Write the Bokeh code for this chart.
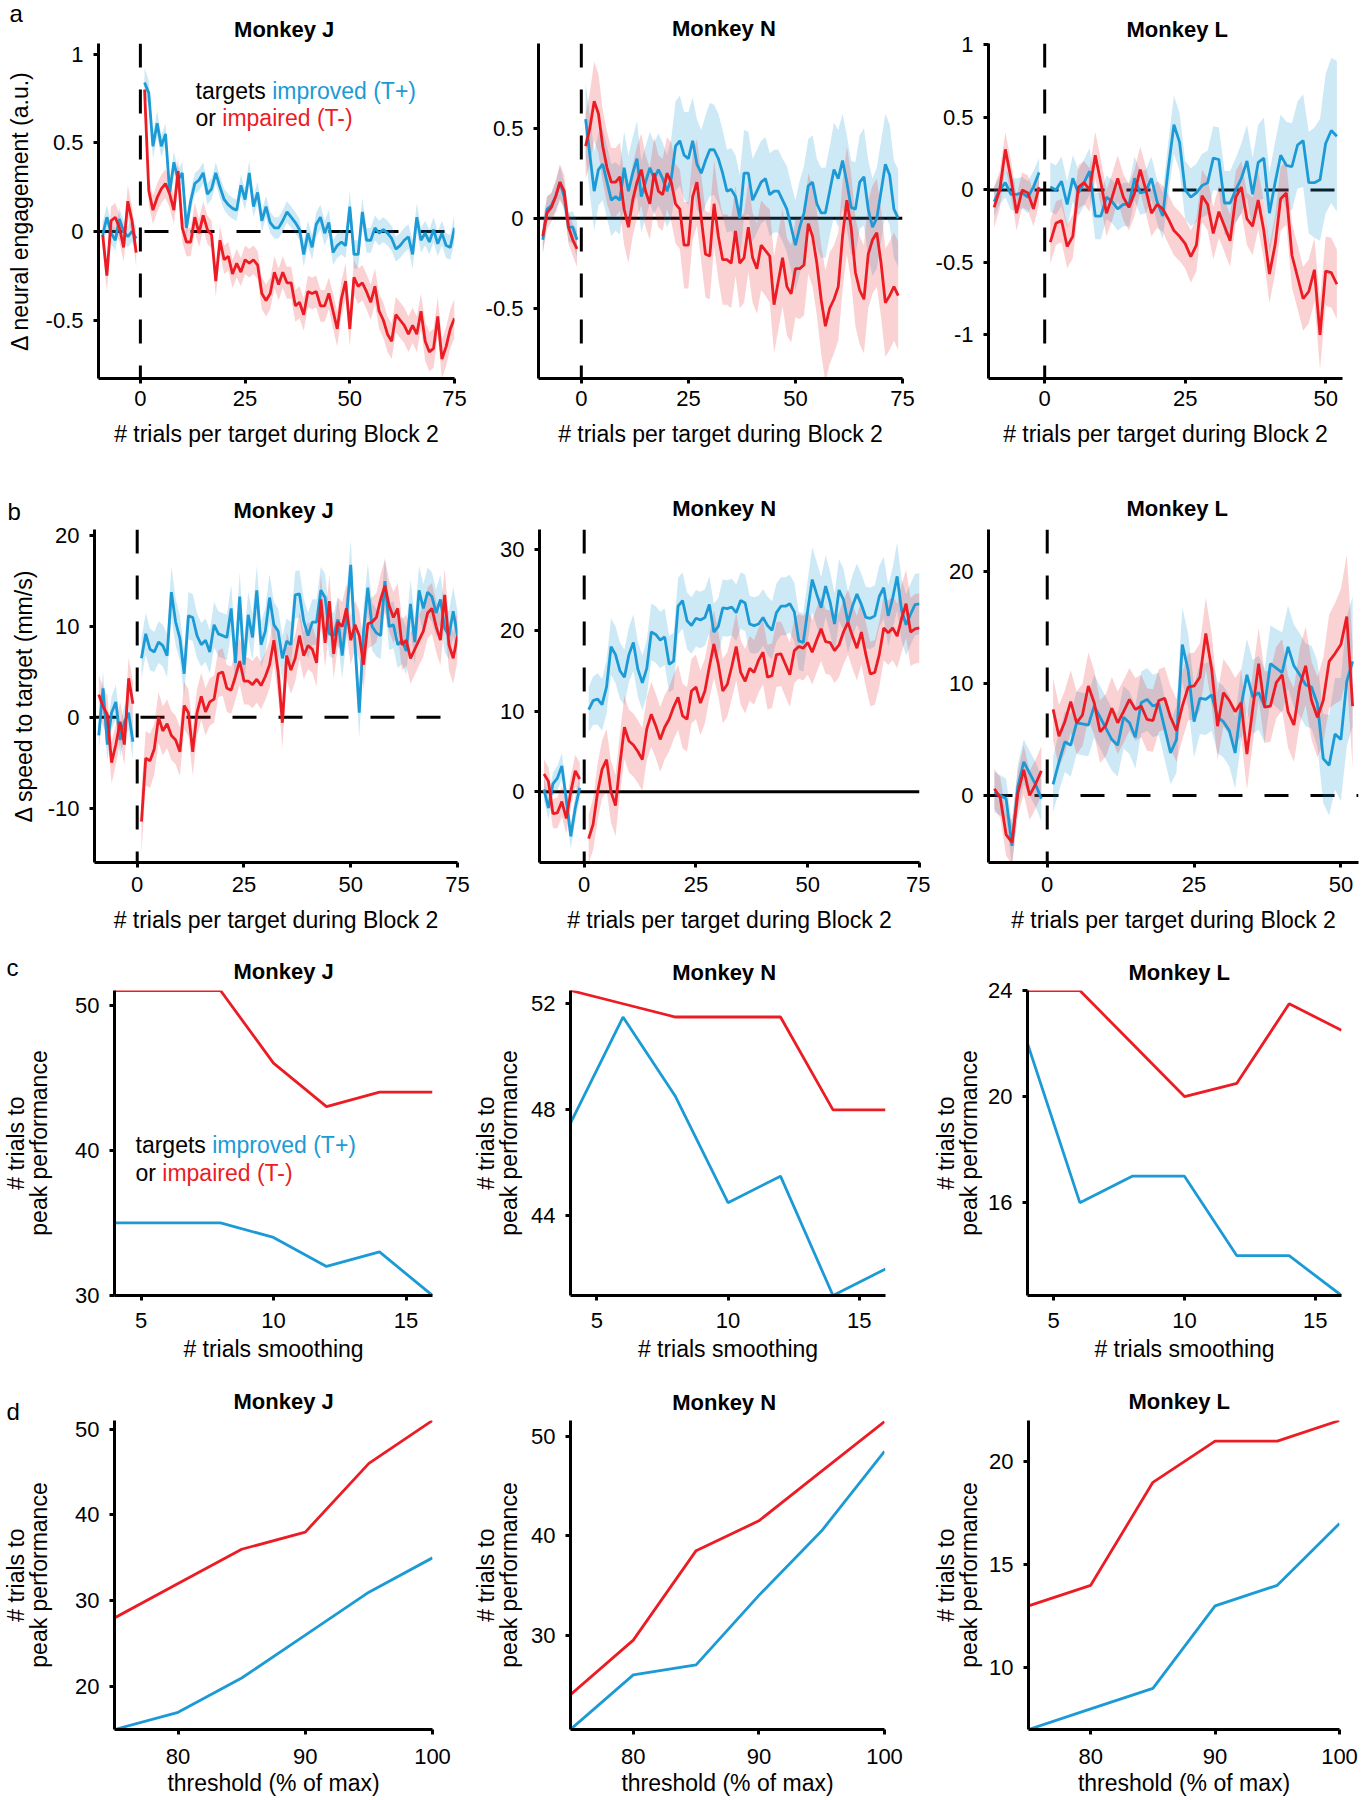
from bokeh.plotting import figure
from bokeh.layouts import row, column
from bokeh.models import Range1d, FixedTicker, Span, Label, Title, CustomJSTickFormatter
from bokeh.embed import file_html
from bokeh.resources import INLINE

BLUE = "#1b9ad6"
RED = "#ec1c24"
FONT = "Liberation Sans"

# ---------------- data ----------------
PRE_X = [-9, -8, -7, -6, -5, -4, -3, -2, -1]
POST_X75 = list(range(1, 76))
POST_X74 = list(range(1, 75))
POST_X52 = list(range(1, 53))

XT_75 = [0, 25, 50, 75]
XT_50 = [0, 25, 50]
XT_SMOOTH = [5, 10, 15]
XT_THRESH = [80, 90, 100]

# panel a, Monkey J
AJ_BLUE_PRE = [-0.02, 0.08, -0.01, -0.05, 0.07, 0.00, -0.03, 0.00, -0.04]
AJ_BLUE_PRE_SEM = [0.07, 0.07, 0.06, 0.06, 0.06, 0.06, 0.06, 0.06, 0.07]
AJ_RED_PRE = [-0.02, -0.25, 0.06, 0.08, 0.02, -0.09, 0.17, 0.06, -0.12]
AJ_RED_PRE_SEM = [0.08, 0.09, 0.08, 0.08, 0.08, 0.08, 0.09, 0.08, 0.08]
AJ_BLUE = [0.84, 0.78, 0.48, 0.61, 0.48, 0.55, 0.22, 0.39, 0.29, 0.33,
           0.02, 0.17, 0.27, 0.29, 0.33, 0.21, 0.24, 0.33, 0.25, 0.18,
           0.15, 0.13, 0.12, 0.26, 0.18, 0.33, 0.14, 0.22, 0.06, 0.14,
           0.05, 0.02, 0.02, 0.06, 0.11, 0.08, 0.05, 0.01, -0.13, -0.01,
           -0.09, 0.04, 0.08, -0.01, 0.05, -0.12, -0.08, -0.06, -0.08, 0.14,
           -0.13, -0.13, 0.11, -0.05, -0.05, 0.02, -0.01, 0.01, -0.01, -0.04,
           -0.10, -0.08, -0.05, -0.03, -0.13, 0.08, -0.05, -0.01, -0.06, 0.01,
           -0.07, -0.01, -0.08, -0.09, 0.02]
AJ_BLUE_SEM = [0.08, 0.07, 0.07, 0.07, 0.06, 0.06, 0.06, 0.06, 0.06, 0.06,
               0.06, 0.06, 0.06, 0.06, 0.06, 0.06, 0.06, 0.06, 0.06, 0.06,
               0.06, 0.06, 0.06, 0.06, 0.06, 0.07, 0.06, 0.06, 0.06, 0.06,
               0.06, 0.06, 0.06, 0.06, 0.06, 0.06, 0.06, 0.06, 0.07, 0.07,
               0.07, 0.07, 0.07, 0.07, 0.07, 0.07, 0.07, 0.07, 0.07, 0.09,
               0.08, 0.08, 0.08, 0.07, 0.07, 0.07, 0.07, 0.07, 0.07, 0.07,
               0.07, 0.07, 0.07, 0.07, 0.08, 0.08, 0.07, 0.07, 0.07, 0.07,
               0.07, 0.07, 0.07, 0.07, 0.08]
AJ_RED = [0.80, 0.23, 0.12, 0.19, 0.24, 0.27, 0.21, 0.12, 0.34, 0.02,
          -0.06, -0.06, 0.08, -0.01, 0.09, 0.01, -0.02, -0.28, -0.05, -0.16,
          -0.14, -0.24, -0.18, -0.23, -0.16, -0.18, -0.16, -0.19, -0.35, -0.39,
          -0.35, -0.23, -0.30, -0.23, -0.29, -0.29, -0.42, -0.40, -0.47, -0.34,
          -0.35, -0.34, -0.42, -0.42, -0.35, -0.45, -0.55, -0.38, -0.28, -0.55,
          -0.26, -0.31, -0.29, -0.34, -0.40, -0.31, -0.45, -0.50, -0.58, -0.62,
          -0.47, -0.50, -0.53, -0.58, -0.53, -0.58, -0.45, -0.62, -0.68, -0.66,
          -0.48, -0.72, -0.65, -0.55, -0.49]
AJ_RED_SEM = [0.08, 0.08, 0.08, 0.08, 0.08, 0.08, 0.08, 0.08, 0.08, 0.08,
              0.08, 0.08, 0.08, 0.08, 0.08, 0.08, 0.08, 0.09, 0.08, 0.08,
              0.08, 0.08, 0.08, 0.08, 0.08, 0.08, 0.08, 0.08, 0.09, 0.09,
              0.09, 0.09, 0.09, 0.09, 0.09, 0.09, 0.09, 0.09, 0.09, 0.09,
              0.09, 0.09, 0.09, 0.09, 0.09, 0.10, 0.10, 0.10, 0.10, 0.10,
              0.10, 0.10, 0.10, 0.10, 0.10, 0.10, 0.10, 0.10, 0.10, 0.10,
              0.10, 0.10, 0.10, 0.10, 0.10, 0.10, 0.10, 0.11, 0.11, 0.11,
              0.11, 0.11, 0.11, 0.11, 0.11]

# panel a, Monkey N
AN_BLUE_PRE = [-0.12, 0.05, 0.07, 0.12, 0.20, 0.12, -0.05, -0.05, -0.12]
AN_BLUE_PRE_SEM = [0.08, 0.07, 0.07, 0.08, 0.09, 0.08, 0.08, 0.09, 0.10]
AN_RED_PRE = [-0.10, 0.03, 0.06, 0.12, 0.20, 0.15, -0.05, -0.12, -0.17]
AN_RED_PRE_SEM = [0.09, 0.09, 0.08, 0.09, 0.10, 0.09, 0.09, 0.09, 0.10]
AN_BLUE = [0.55, 0.35, 0.15, 0.27, 0.30, 0.20, 0.10, 0.12, 0.10, 0.28,
           0.15, 0.25, 0.33, 0.12, 0.20, 0.28, 0.22, 0.27, 0.22, 0.15,
           0.22, 0.40, 0.43, 0.35, 0.33, 0.43, 0.30, 0.25, 0.32, 0.38,
           0.38, 0.33, 0.25, 0.15, 0.16, 0.12, 0.00, 0.25, 0.25, 0.10,
           0.15, 0.20, 0.22, 0.13, 0.15, 0.15, 0.10, 0.05, -0.05, -0.15,
           -0.05, 0.03, 0.18, 0.20, 0.08, 0.03, 0.03, 0.15, 0.27, 0.22,
           0.32, 0.20, 0.06, 0.05, 0.20, 0.23, 0.05, -0.05, 0.00, 0.15,
           0.30, 0.24, 0.05, 0.00]
AN_BLUE_SEM = [0.20, 0.22, 0.22, 0.20, 0.20, 0.20, 0.20, 0.19, 0.19, 0.20,
               0.20, 0.20, 0.21, 0.20, 0.20, 0.20, 0.20, 0.20, 0.20, 0.20,
               0.22, 0.25, 0.25, 0.24, 0.26, 0.24, 0.25, 0.24, 0.25, 0.26,
               0.25, 0.25, 0.24, 0.23, 0.23, 0.23, 0.24, 0.24, 0.23, 0.23,
               0.23, 0.23, 0.23, 0.23, 0.23, 0.23, 0.23, 0.24, 0.24, 0.25,
               0.26, 0.26, 0.26, 0.26, 0.25, 0.25, 0.25, 0.25, 0.26, 0.27,
               0.26, 0.26, 0.26, 0.26, 0.26, 0.27, 0.27, 0.27, 0.28, 0.28,
               0.28, 0.28, 0.27, 0.27]
AN_RED = [0.40, 0.50, 0.65, 0.58, 0.40, 0.28, 0.20, 0.20, 0.23, 0.05,
          -0.05, 0.10, 0.20, 0.27, 0.15, 0.08, 0.25, 0.15, 0.13, 0.25,
          0.20, 0.08, 0.05, -0.15, -0.15, 0.12, 0.20, 0.00, -0.20, -0.21,
          0.08, -0.10, -0.23, -0.23, -0.25, -0.07, -0.25, -0.22, -0.05, -0.22,
          -0.28, -0.15, -0.18, -0.21, -0.48, -0.35, -0.22, -0.38, -0.42, -0.28,
          -0.28, -0.26, -0.03, -0.10, -0.25, -0.45, -0.60, -0.50, -0.45, -0.38,
          -0.10, 0.10, -0.05, -0.30, -0.40, -0.45, -0.20, -0.12, -0.08, -0.25,
          -0.47, -0.43, -0.38, -0.43]
AN_RED_SEM = [0.18, 0.20, 0.22, 0.22, 0.20, 0.20, 0.19, 0.19, 0.19, 0.20,
              0.20, 0.20, 0.20, 0.20, 0.20, 0.20, 0.20, 0.20, 0.20, 0.20,
              0.22, 0.22, 0.22, 0.24, 0.24, 0.24, 0.24, 0.24, 0.24, 0.24,
              0.24, 0.24, 0.25, 0.25, 0.25, 0.25, 0.25, 0.25, 0.25, 0.25,
              0.25, 0.25, 0.25, 0.26, 0.27, 0.27, 0.27, 0.27, 0.27, 0.27,
              0.28, 0.28, 0.28, 0.28, 0.29, 0.30, 0.31, 0.31, 0.30, 0.30,
              0.30, 0.30, 0.30, 0.30, 0.30, 0.30, 0.30, 0.30, 0.30, 0.30,
              0.30, 0.30, 0.30, 0.30]

# panel a, Monkey L
AL_BLUE_PRE = [-0.08, 0.00, 0.05, -0.03, -0.03, -0.02, -0.05, 0.02, 0.12]
AL_BLUE_PRE_SEM = [0.10, 0.10, 0.10, 0.11, 0.11, 0.11, 0.11, 0.11, 0.10]
AL_RED_PRE = [-0.12, 0.00, 0.28, 0.08, -0.16, 0.00, -0.02, -0.13, 0.02]
AL_RED_PRE_SEM = [0.14, 0.13, 0.12, 0.12, 0.12, 0.12, 0.12, 0.12, 0.12]
AL_BLUE = [0.02, 0.00, 0.06, -0.10, 0.08, -0.02, 0.05, 0.13, -0.18, -0.18,
           -0.05, -0.08, -0.13, -0.10, -0.10, 0.08, -0.02, -0.01, 0.08, -0.08,
           -0.18, 0.15, 0.45, 0.33, 0.00, -0.05, -0.02, 0.03, 0.05, 0.22,
           0.21, -0.09, -0.09, 0.00, 0.08, 0.20, -0.03, 0.19, 0.22, -0.16,
           0.05, 0.24, 0.17, 0.16, 0.31, 0.34, 0.05, 0.05, 0.07, 0.32,
           0.41, 0.37]
AL_BLUE_SEM = [0.17, 0.17, 0.17, 0.16, 0.16, 0.16, 0.16, 0.16, 0.16, 0.16,
               0.15, 0.15, 0.15, 0.15, 0.15, 0.15, 0.15, 0.15, 0.15, 0.15,
               0.16, 0.18, 0.20, 0.20, 0.20, 0.20, 0.20, 0.22, 0.22, 0.22,
               0.22, 0.22, 0.22, 0.22, 0.24, 0.25, 0.25, 0.26, 0.28, 0.28,
               0.28, 0.28, 0.30, 0.30, 0.30, 0.32, 0.35, 0.38, 0.42, 0.48,
               0.50, 0.52]
AL_RED = [-0.36, -0.23, -0.21, -0.39, -0.32, 0.02, 0.05, 0.00, 0.24, 0.05,
          -0.16, -0.05, 0.08, -0.05, -0.12, -0.02, 0.14, 0.00, -0.16, -0.10,
          -0.13, -0.20, -0.28, -0.32, -0.37, -0.46, -0.38, -0.04, -0.10, -0.30,
          -0.15, -0.25, -0.35, -0.05, 0.02, -0.20, -0.25, -0.07, -0.28, -0.58,
          -0.38, -0.06, -0.02, -0.45, -0.60, -0.75, -0.70, -0.55, -1.00, -0.56,
          -0.57, -0.65]
AL_RED_SEM = [0.15, 0.15, 0.15, 0.15, 0.15, 0.15, 0.15, 0.15, 0.16, 0.16,
              0.16, 0.16, 0.16, 0.16, 0.16, 0.16, 0.16, 0.16, 0.16, 0.16,
              0.16, 0.17, 0.17, 0.17, 0.17, 0.18, 0.18, 0.18, 0.18, 0.18,
              0.18, 0.18, 0.18, 0.18, 0.18, 0.18, 0.20, 0.20, 0.20, 0.20,
              0.20, 0.22, 0.22, 0.22, 0.22, 0.22, 0.22, 0.22, 0.24, 0.24,
              0.24, 0.24]

# panel b, Monkey J
BJ_BLUE_PRE = [-2.0, 3.2, -3.0, 0.5, 1.7, -2.5, -0.5, 0.5, -2.7]
BJ_BLUE_PRE_SEM = [1.8, 1.9, 1.8, 1.8, 1.9, 1.8, 1.8, 1.9, 2.0]
BJ_RED_PRE = [2.5, 1.2, 0.3, -5.0, -3.0, -0.5, -3.0, 4.3, 1.5]
BJ_RED_PRE_SEM = [2.2, 2.2, 2.1, 2.3, 2.2, 2.2, 2.3, 2.3, 2.4]
BJ_BLUE = [6.5, 9.2, 7.5, 7.2, 8.3, 7.9, 6.8, 13.8, 10.5, 8.7,
           4.8, 11.2, 11.0, 9.0, 8.0, 8.5, 7.2, 10.2, 9.2, 9.0,
           8.8, 12.0, 6.0, 13.3, 5.8, 11.3, 8.8, 14.0, 8.0, 9.5,
           13.2, 10.2, 9.5, 6.5, 8.4, 8.0, 13.5, 13.6, 10.6, 9.0,
           10.5, 10.5, 14.0, 13.2, 9.2, 9.0, 10.8, 6.8, 11.0, 16.8,
           8.0, 0.5, 9.5, 14.3, 10.0, 9.3, 9.0, 15.0, 10.0, 10.2,
           8.0, 8.5, 7.3, 12.5, 8.3, 14.0, 12.0, 13.8, 13.3, 11.5,
           13.0, 9.8, 9.0, 11.7, 9.0]
BJ_BLUE_SEM = [2.2, 2.3, 2.3, 2.2, 2.3, 2.3, 2.4, 2.8, 2.6, 2.5,
               2.5, 2.6, 2.6, 2.5, 2.4, 2.4, 2.4, 2.5, 2.5, 2.5,
               2.5, 2.6, 2.5, 2.7, 2.6, 2.6, 2.5, 2.7, 2.5, 2.5,
               2.6, 2.5, 2.5, 2.5, 2.5, 2.5, 2.6, 2.6, 2.5, 2.5,
               2.5, 2.5, 2.6, 2.6, 2.5, 2.5, 2.5, 2.5, 2.6, 2.8,
               2.6, 2.8, 2.6, 2.7, 2.6, 2.6, 2.6, 2.7, 2.6, 2.6,
               2.6, 2.6, 2.6, 2.7, 2.6, 2.7, 2.7, 2.7, 2.7, 2.6,
               2.7, 2.6, 2.6, 2.7, 2.7]
BJ_RED = [-11.5, -4.5, -4.8, -3.5, 0.0, -1.5, -0.7, -2.0, -2.5, -3.8,
          1.3, 0.5, -3.8, 0.5, 2.3, 0.6, 1.7, 2.0, 4.8, 5.0,
          3.2, 3.0, 4.5, 6.2, 4.0, 4.0, 3.6, 4.2, 3.5, 4.5,
          5.8, 8.5, 5.0, -0.6, 6.8, 5.2, 6.5, 9.0, 6.8, 7.9,
          7.5, 6.0, 13.0, 8.2, 12.8, 7.0, 10.5, 10.0, 12.0, 8.5,
          10.2, 9.0, 5.8, 10.3, 10.5, 11.0, 13.0, 14.5, 12.3, 11.0,
          12.0, 8.0, 8.5, 6.5, 7.5, 8.5, 9.5, 11.5, 12.0, 10.0,
          8.5, 13.5, 8.0, 6.5, 9.0]
BJ_RED_SEM = [3.5, 3.0, 3.0, 2.8, 2.8, 2.7, 2.7, 2.7, 2.7, 2.7,
              2.6, 2.6, 2.6, 2.6, 2.6, 2.6, 2.6, 2.6, 2.6, 2.6,
              2.6, 2.6, 2.6, 2.6, 2.6, 2.6, 2.6, 2.6, 2.6, 2.6,
              2.6, 2.6, 2.6, 2.8, 2.6, 2.6, 2.6, 2.6, 2.6, 2.6,
              2.6, 2.6, 2.8, 2.7, 2.8, 2.7, 2.7, 2.7, 2.7, 2.7,
              2.7, 2.7, 2.7, 2.7, 2.7, 2.7, 2.8, 2.9, 2.8, 2.8,
              2.8, 2.8, 2.8, 2.8, 2.8, 2.8, 2.8, 2.8, 2.8, 2.8,
              2.8, 2.9, 2.8, 2.8, 2.8]

# panel b, Monkey N
BN_BLUE_PRE = [0.3, -2.0, 1.0, 1.7, 3.2, -1.0, -5.5, -2.0, 0.5]
BN_BLUE_PRE_SEM = [1.4, 1.4, 1.4, 1.5, 1.6, 1.5, 1.6, 1.5, 1.5]
BN_RED_PRE = [2.2, 1.3, -2.7, -2.6, -1.2, -3.3, 0.0, 2.6, 1.6]
BN_RED_PRE_SEM = [1.8, 1.8, 1.8, 1.9, 1.9, 1.9, 2.0, 2.0, 2.0]
BN_BLUE = [10.2, 11.3, 11.5, 10.8, 13.0, 18.0, 17.0, 15.0, 14.2, 17.0,
           18.5, 15.2, 13.5, 15.3, 19.8, 19.5, 18.8, 19.2, 15.8, 16.2,
           23.0, 23.7, 21.2, 20.6, 21.5, 21.3, 21.6, 23.2, 19.8, 20.5,
           22.8, 22.7, 22.9, 22.2, 23.7, 23.4, 20.8, 20.6, 20.8, 21.6,
           20.6, 20.0, 22.2, 23.0, 23.0, 23.3, 22.3, 18.7, 18.5, 22.5,
           26.3, 24.5, 22.8, 25.5, 23.5, 20.8, 25.0, 23.8, 21.0, 23.0,
           24.5, 23.2, 21.6, 21.5, 21.8, 24.2, 25.3, 21.8, 24.0, 26.7,
           22.5, 20.7, 22.0, 23.2, 23.3]
BN_BLUE_SEM = [2.8, 3.0, 3.2, 3.2, 3.3, 3.5, 3.5, 3.5, 3.4, 3.4,
               3.5, 3.4, 3.4, 3.5, 3.5, 3.5, 3.5, 3.5, 3.5, 3.5,
               3.5, 3.5, 3.5, 3.5, 3.5, 3.5, 3.5, 3.5, 3.5, 3.5,
               3.5, 3.5, 3.5, 3.5, 3.5, 3.5, 3.5, 3.5, 3.5, 3.5,
               3.6, 3.6, 3.6, 3.6, 3.6, 3.6, 3.6, 3.6, 3.6, 3.8,
               4.0, 4.0, 3.8, 3.8, 3.8, 3.8, 3.8, 3.8, 3.8, 3.8,
               3.8, 3.8, 3.8, 3.8, 3.8, 3.8, 3.8, 3.8, 3.8, 4.2,
               3.8, 3.8, 3.8, 3.8, 3.8]
BN_RED = [-5.8, -4.0, 0.0, 2.8, 4.0, 0.0, -1.7, 3.5, 8.0, 6.3,
          5.8, 5.0, 4.0, 7.8, 9.6, 8.2, 6.5, 8.0, 9.0, 10.5,
          11.7, 9.4, 9.0, 12.5, 13.0, 11.0, 12.5, 15.5, 18.3, 15.8,
          12.5, 13.3, 15.5, 18.0, 14.8, 13.7, 15.3, 14.8, 16.3, 17.3,
          14.2, 14.4, 17.0, 17.1, 15.8, 14.5, 17.5, 18.0, 17.8, 18.5,
          17.3, 18.8, 20.2, 18.6, 18.5, 17.5, 18.2, 19.8, 21.0, 19.3,
          17.8, 19.8, 17.0, 14.6, 14.8, 17.0, 20.3, 19.7, 20.3, 19.3,
          21.5, 23.3, 19.8, 20.2, 20.3]
BN_RED_SEM = [3.0, 3.2, 3.5, 3.6, 3.8, 3.8, 3.8, 3.8, 3.9, 3.9,
              3.9, 3.9, 3.9, 3.9, 4.0, 4.0, 4.0, 4.0, 4.0, 4.0,
              4.0, 4.0, 4.0, 4.0, 4.0, 4.0, 4.0, 4.0, 4.2, 4.0,
              4.0, 4.0, 4.0, 4.2, 4.0, 4.0, 4.0, 4.0, 4.0, 4.0,
              4.0, 4.0, 4.0, 4.0, 4.0, 4.0, 4.0, 4.0, 4.0, 4.0,
              4.0, 4.0, 4.0, 4.0, 4.0, 4.0, 4.0, 4.0, 4.0, 4.0,
              4.0, 4.0, 4.0, 4.0, 4.0, 4.0, 4.0, 4.0, 4.0, 4.0,
              4.2, 4.2, 4.2, 4.3, 4.3]

# panel b, Monkey L
BL_BLUE_PRE = [0.3, 0.0, -0.3, -4.5, 0.8, 3.0, 2.0, 1.0, -0.3]
BL_BLUE_PRE_SEM = [1.8, 1.8, 1.8, 1.9, 2.0, 2.0, 2.0, 2.0, 2.0]
BL_RED_PRE = [0.6, -0.2, -3.5, -4.2, 0.2, 2.3, 0.0, 1.0, 2.2]
BL_RED_PRE_SEM = [1.8, 1.8, 1.9, 2.0, 2.0, 2.2, 2.2, 2.2, 2.2]
BL_BLUE = [1.0, 3.0, 4.8, 4.5, 6.5, 6.4, 6.3, 8.0, 7.0, 6.0,
           5.0, 4.5, 7.0, 6.5, 5.2, 8.3, 8.6, 8.0, 8.2, 6.0,
           3.8, 5.0, 13.5, 11.2, 6.6, 8.7, 8.6, 9.0, 7.0, 6.6,
           5.8, 3.8, 8.0, 10.8, 8.8, 9.2, 8.0, 11.8, 11.4, 11.0,
           13.3, 11.6, 10.8, 9.9, 9.7, 8.2, 3.3, 2.7, 5.5, 5.0,
           10.2, 12.0]
BL_BLUE_SEM = [2.5, 2.6, 2.7, 2.8, 2.8, 2.8, 2.8, 2.8, 2.8, 2.8,
               2.8, 2.8, 2.8, 2.8, 2.8, 2.8, 2.8, 2.8, 2.8, 2.8,
               2.8, 3.0, 3.3, 3.3, 3.2, 3.2, 3.2, 3.2, 3.2, 3.2,
               3.2, 3.2, 3.2, 3.2, 3.3, 3.3, 3.3, 3.4, 3.5, 3.6,
               3.7, 3.7, 3.7, 3.7, 3.7, 3.8, 4.0, 4.5, 5.0, 5.5,
               5.8, 5.8]
BL_RED = [7.7, 5.3, 6.6, 8.4, 6.5, 7.2, 9.8, 8.3, 5.7, 6.3,
          7.8, 6.5, 7.5, 8.6, 7.7, 8.0, 6.8, 6.7, 8.5, 8.7,
          7.0, 5.8, 8.0, 9.7, 9.8, 10.6, 14.5, 11.3, 6.2, 9.2,
          8.5, 7.5, 8.3, 3.7, 7.8, 11.8, 7.9, 8.0, 10.1, 10.8,
          7.5, 6.3, 9.8, 11.6, 8.5, 7.0, 8.5, 12.0, 12.7, 13.5,
          16.0, 8.0]
BL_RED_SEM = [2.8, 2.8, 2.8, 2.8, 2.8, 2.8, 3.0, 2.9, 2.8, 2.8,
              2.8, 2.8, 2.8, 2.8, 2.8, 2.8, 2.8, 2.8, 2.8, 2.8,
              2.8, 2.8, 3.0, 3.0, 3.0, 3.0, 3.2, 3.2, 3.0, 3.0,
              3.0, 3.0, 3.0, 3.2, 3.2, 3.2, 3.2, 3.2, 3.2, 3.2,
              3.2, 3.3, 3.4, 3.5, 3.5, 3.6, 3.8, 4.2, 4.5, 5.0,
              5.5, 5.5]

# panel c
C_X = [4, 6, 8, 10, 12, 14, 16]
CJ_RED = [51, 51, 51, 46, 43, 44, 44]
CJ_BLUE = [35, 35, 35, 34, 32, 33, 30]
CN_RED = [52.5, 52, 51.5, 51.5, 51.5, 48, 48]
CN_BLUE = [47.5, 51.5, 48.5, 44.5, 45.5, 41, 42]
CL_RED = [24, 24, 22, 20, 20.5, 23.5, 22.5]
CL_BLUE = [22, 16, 17, 17, 14, 14, 12.5]

# panel d
D_X = [75, 80, 85, 90, 95, 100]
DJ_RED = [28, 32, 36, 38, 46, 51]
DJ_BLUE = [15, 17, 21, 26, 31, 35]
DN_RED = [24, 29.5, 38.5, 41.5, 46.5, 51.5]
DN_BLUE = [20.5, 26, 27, 34, 40.5, 48.5]
DL_RED = [13, 14, 19, 21, 21, 22]
DL_BLUE = [7, 8, 9, 13, 14, 17]

XLAB_TS = "# trials per target during Block 2"
XLAB_SM = "# trials smoothing"
XLAB_TH = "threshold (% of max)"
YLAB_PEAK = "# trials to\npeak performance"

# ---------------- helpers ----------------
FMT = CustomJSTickFormatter(code="return String(tick)")
LW = 2.8


def make_fig(W, H, bl, br, bt, bb, xr, yr, xticks, yticks, title, title_off, title_st,
             xlabel, ylabel, xstand, ystand):
    p = figure(width=W, height=H, x_range=Range1d(*xr), y_range=Range1d(*yr),
               min_border_left=bl, min_border_right=br, min_border_top=bt, min_border_bottom=bb,
               output_backend="svg", toolbar_location=None, tools="", title=None)
    p.add_layout(Title(text=title, align="left", offset=title_off, standoff=title_st,
                       text_font=FONT, text_font_size="22px", text_font_style="bold",
                       text_color="black"), "above")
    p.outline_line_color = None
    p.grid.visible = False
    for ax, ticks in ((p.xaxis[0], xticks), (p.yaxis[0], yticks)):
        ax.ticker = FixedTicker(ticks=ticks)
        ax.formatter = FMT
        ax.axis_line_width = 3
        ax.axis_line_color = "black"
        ax.major_tick_line_width = 3
        ax.major_tick_line_color = "black"
        ax.major_tick_out = 5
        ax.major_tick_in = 0
        ax.minor_tick_line_color = None
        ax.major_label_text_font = FONT
        ax.major_label_text_font_size = "22px"
        ax.major_label_text_color = "black"
        ax.axis_label_text_font = FONT
        ax.axis_label_text_font_size = "23px"
        ax.axis_label_text_font_style = "normal"
        ax.axis_label_text_color = "black"
        ax.axis_label_text_line_height = 0.87
    p.xaxis[0].axis_label = xlabel
    p.xaxis[0].major_label_standoff = xstand[0]
    p.xaxis[0].axis_label_standoff = xstand[1]
    if ylabel:
        p.yaxis[0].axis_label = ylabel
    p.yaxis[0].major_label_standoff = ystand[0]
    p.yaxis[0].axis_label_standoff = ystand[1]
    return p


def add_ts(p, series, zero_solid):
    p.add_layout(Span(location=0, dimension="width", line_color="black", line_width=3,
                      line_dash="solid" if zero_solid else "24 22", level="underlay"))
    p.add_layout(Span(location=0, dimension="height", line_color="black", line_width=3,
                      line_dash="24 22", level="underlay"))
    for xs, m, s, col, alpha in series:
        lo = [a - b for a, b in zip(m, s)]
        hi = [a + b for a, b in zip(m, s)]
        p.varea(x=xs, y1=lo, y2=hi, fill_color=col, fill_alpha=alpha)
    for xs, m, s, col, alpha in [t for t in series if t[3] == BLUE] + [t for t in series if t[3] == RED]:
        p.line(x=xs, y=m, line_color=col, line_width=LW)


def letter(p, txt, off, st):
    p.add_layout(Title(text=txt, align="left", offset=off, standoff=st,
                       text_font=FONT, text_font_size="24px", text_font_style="normal",
                       text_color="black"), "above")


def legend(p, x, y1, y2):
    w_targets = 76.7
    w_or = 26.8
    items = [("targets ", "black", x, y1), ("improved (T+)", BLUE, x + w_targets, y1),
             ("or ", "black", x, y2), ("impaired (T-)", RED, x + w_or, y2)]
    for t, c, xx, yy in items:
        p.add_layout(Label(x=xx, y=yy, x_units="screen", y_units="screen", text=t,
                           text_font=FONT, text_font_size="23px", text_color=c,
                           text_baseline="middle"))


def ts_series(pre_b, pre_bs, pre_r, pre_rs, post_x, b, bs, r, rs):
    return [(PRE_X, pre_b, pre_bs, BLUE, 0.22), (post_x, b, bs, BLUE, 0.22),
            (PRE_X, pre_r, pre_rs, RED, 0.2), (post_x, r, rs, RED, 0.2)]


def simple(p, xs, red, blue):
    p.line(x=xs, y=red, line_color=RED, line_width=LW)
    p.line(x=xs, y=blue, line_color=BLUE, line_width=LW)


# ---------------- row a ----------------
aJ = make_fig(470, 452, 98, 16, 43, 74, (-10, 75), (-0.83, 1.06), XT_75, [-0.5, 0, 0.5, 1],
              "Monkey J", 135.6, 3, XLAB_TS, "\u0394 neural engagement (a.u.)", (7, 12), (10, 10))
add_ts(aJ, ts_series(AJ_BLUE_PRE, AJ_BLUE_PRE_SEM, AJ_RED_PRE, AJ_RED_PRE_SEM,
                     POST_X75, AJ_BLUE, AJ_BLUE_SEM, AJ_RED, AJ_RED_SEM), False)
legend(aJ, 97, 288, 261)
letter(aJ, "a", -89, -27)

aN = make_fig(460, 452, 68, 28, 35, 74, (-10, 75), (-0.89, 0.97), XT_75, [-0.5, 0, 0.5],
              "Monkey N", 133.4, 5, XLAB_TS, None, (7, 12), (10, 10))
add_ts(aN, ts_series(AN_BLUE_PRE, AN_BLUE_PRE_SEM, AN_RED_PRE, AN_RED_PRE_SEM,
                     POST_X74, AN_BLUE, AN_BLUE_SEM, AN_RED, AN_RED_SEM), True)

aL = make_fig(432, 452, 58, 20, 43, 74, (-10, 53), (-1.3, 1.01), XT_50, [-1, -0.5, 0, 0.5, 1],
              "Monkey L", 138, 4, XLAB_TS, None, (7, 12), (10, 10))
add_ts(aL, ts_series(AL_BLUE_PRE, AL_BLUE_PRE_SEM, AL_RED_PRE, AL_RED_PRE_SEM,
                     POST_X52, AL_BLUE, AL_BLUE_SEM, AL_RED, AL_RED_SEM), False)

# ---------------- row b ----------------
bJ = make_fig(470, 483, 94, 13, 75, 72, (-10, 75), (-16, 20.7), XT_75, [-10, 0, 10, 20],
              "Monkey J", 139, 13, XLAB_TS, "\u0394 speed to target (mm/s)", (9, 12), (10, 8))
add_ts(bJ, ts_series(BJ_BLUE_PRE, BJ_BLUE_PRE_SEM, BJ_RED_PRE, BJ_RED_PRE_SEM,
                     POST_X75, BJ_BLUE, BJ_BLUE_SEM, BJ_RED, BJ_RED_SEM), False)
letter(bJ, "b", -87, -71)

bN = make_fig(460, 483, 69, 11, 69, 72, (-10, 75), (-8.75, 32.5), XT_75, [0, 10, 20, 30],
              "Monkey N", 132.7, 17, XLAB_TS, None, (9, 12), (10, 8))
add_ts(bN, ts_series(BN_BLUE_PRE, BN_BLUE_PRE_SEM, BN_RED_PRE, BN_RED_PRE_SEM,
                     POST_X75, BN_BLUE, BN_BLUE_SEM, BN_RED, BN_RED_SEM), True)

bL = make_fig(432, 483, 58, 4, 77, 73, (-10, 53), (-6, 23.8), XT_50, [0, 10, 20],
              "Monkey L", 138, 17, XLAB_TS, None, (9, 12), (10, 8))
add_ts(bL, ts_series(BL_BLUE_PRE, BL_BLUE_PRE_SEM, BL_RED_PRE, BL_RED_PRE_SEM,
                     POST_X52, BL_BLUE, BL_BLUE_SEM, BL_RED, BL_RED_SEM), False)

# ---------------- row c ----------------
cJ = make_fig(470, 429, 114, 38, 55, 65, (4, 16), (30, 51), XT_SMOOTH, [30, 40, 50],
              "Monkey J", 119, 14, XLAB_SM, YLAB_PEAK, (12, 5), (10, 20))
simple(cJ, C_X, CJ_RED, CJ_BLUE)
legend(cJ, 21, 151, 123)
letter(cJ, "c", -108, -62)

cN = make_fig(460, 429, 100, 45, 54, 65, (4, 16), (41, 52.5), XT_SMOOTH, [44, 48, 52],
              "Monkey N", 101.7, 12, XLAB_SM, YLAB_PEAK, (12, 5), (10, 6))
simple(cN, C_X, CN_RED, CN_BLUE)

cL = make_fig(432, 429, 95, 21, 54, 65, (4, 16), (12.5, 24), XT_SMOOTH, [16, 20, 24],
              "Monkey L", 101, 12, XLAB_SM, YLAB_PEAK, (12, 5), (10, 3))
simple(cL, C_X, CL_RED, CL_BLUE)

# ---------------- row d ----------------
dJ = make_fig(470, 434, 114, 38, 56, 68, (75, 100), (15, 51), XT_THRESH, [20, 30, 40, 50],
              "Monkey J", 119, 14, XLAB_TH, YLAB_PEAK, (14, 3), (10, 20))
simple(dJ, D_X, DJ_RED, DJ_BLUE)
letter(dJ, "d", -108, -90)

dN = make_fig(460, 434, 100, 46, 55, 68, (75, 100), (20.5, 51.6), XT_THRESH, [30, 40, 50],
              "Monkey N", 101.7, 12, XLAB_TH, YLAB_PEAK, (14, 3), (10, 6))
simple(dN, D_X, DN_RED, DN_BLUE)

dL = make_fig(432, 434, 96, 23, 56, 68, (75, 100), (7, 22), XT_THRESH, [10, 15, 20],
              "Monkey L", 100, 14, XLAB_TH, YLAB_PEAK, (14, 3), (10, 4))
simple(dL, D_X, DL_RED, DL_BLUE)

layout = column(row(aJ, aN, aL), row(bJ, bN, bL), row(cJ, cN, cL), row(dJ, dN, dL))

open("out.html", "w").write(file_html(layout, INLINE))
